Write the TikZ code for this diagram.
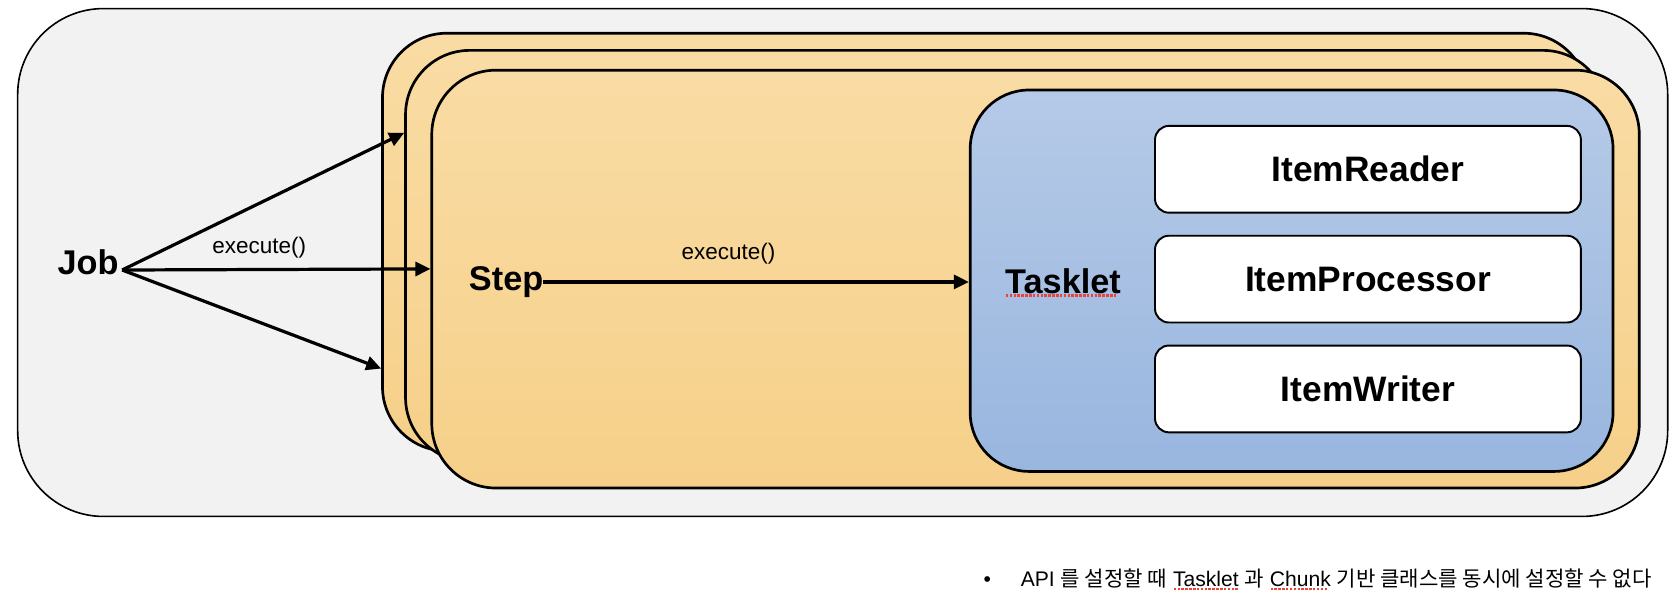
\documentclass[tikz,border=0pt]{standalone}
\usepackage{fontspec}
\setmainfont{Liberation Sans}
\newfontfamily\krfont{Noto Sans CJK KR}
\usetikzlibrary{arrows.meta}
\definecolor{outerfill}{HTML}{F2F2F2}
\definecolor{steptop}{HTML}{F9DCA4}
\definecolor{stepbot}{HTML}{F6D089}
\definecolor{tasktop}{HTML}{B5CAE7}
\definecolor{taskbot}{HTML}{99B6DF}
\definecolor{squig}{HTML}{E8463C}
\newcommand\squiggle[2][3pt]{\setbox0\hbox{#2}\rlap{\raisebox{-#1}{\textcolor{squig}{\hbox to \wd0{\leaders\hbox to 3.6pt{\hss\rule{2.3pt}{2.3pt}\hss}\hfill}}}}\box0\relax}
\tikzset{
  outerbox/.style={draw=black, line width=1.5pt, fill=outerfill, rounded corners=80pt, inner sep=0pt},
  stepbox/.style={draw=black, line width=2.5pt, top color=steptop, bottom color=stepbot, rounded corners=60pt, inner sep=0pt},
  taskbox/.style={draw=black, line width=2.5pt, top color=tasktop, bottom color=taskbot, rounded corners=55pt, inner sep=0pt},
  itembox/.style={draw=black, fill=white, line width=1.8pt, rounded corners=13pt, minimum width=397.5pt, minimum height=81pt, inner sep=0pt, font=\fontsize{33}{40}\selectfont\bfseries},
  lbl/.style={inner sep=0pt, font=\fontsize{32}{38}\selectfont\bfseries},
  call/.style={inner sep=0pt, font=\fontsize{21}{25}\selectfont},
  note/.style={inner sep=0pt, font=\fontsize{19.7}{23}\selectfont},
  conn/.style={line width=3pt, -{Triangle[length=14pt,width=13pt]}}
}
\begin{document}
\begin{tikzpicture}[x=1pt,y=-1pt]
\useasboundingbox (0,0) rectangle (1568,560);
\node[outerbox, minimum width=1540pt, minimum height=474pt] (jobbox) at (786.5,245) {};
\node[stepbox, minimum width=1125pt, minimum height=390pt] (s1) at (919.5,226) {};
\node[stepbox, minimum width=1121.5pt, minimum height=384pt] (s2) at (939.25,239) {};
\node[stepbox, minimum width=1127pt, minimum height=390pt] (s3) at (966.5,260.5) {};
\node[taskbox, minimum width=600pt, minimum height=356pt] (tb) at (1205.5,262) {};
\node[itembox] (reader) at (1276.75,158) {ItemReader};
\node[itembox] (processor) at (1276.75,260.5) {ItemProcessor};
\node[itembox] (writer) at (1276.75,363) {ItemWriter};
\node[lbl, anchor=base west] (job) at (53.5,256.5) {Job};
\node[lbl, anchor=base west] (step) at (437.5,271) {Step};
\node[lbl, anchor=base west] (tasklet) at (938,273.5) {\squiggle[3.5pt]{Tasklet}};
\node[call, anchor=base] (ex1) at (242,237) {execute()};
\node[call, anchor=base] (ex2) at (680,242) {execute()};
\coordinate (jo) at (114,252);
\coordinate (t1) at (s2.west |- 0,124);
\coordinate (t2) at (s3.west |- 0,251);
\coordinate (t3) at (s1.west |- 0,344);
\draw[conn] (jo) -- (t1);
\draw[conn] (jo) -- (t2);
\draw[conn] (jo) -- (t3);
\draw[conn] (step.east) -- (step.east -| tb.west);
\node[note, anchor=base] (bullet) at (921.5,547) {•};
\node[note, anchor=base west] (remark) at (952.5,547) {API {\krfont 를 설정할 때} \squiggle[4pt]{Tasklet} {\krfont 과} \squiggle[4pt]{Chunk} {\krfont 기반 클래스를 동시에 설정할 수 없다}};
\end{tikzpicture}
\end{document}
